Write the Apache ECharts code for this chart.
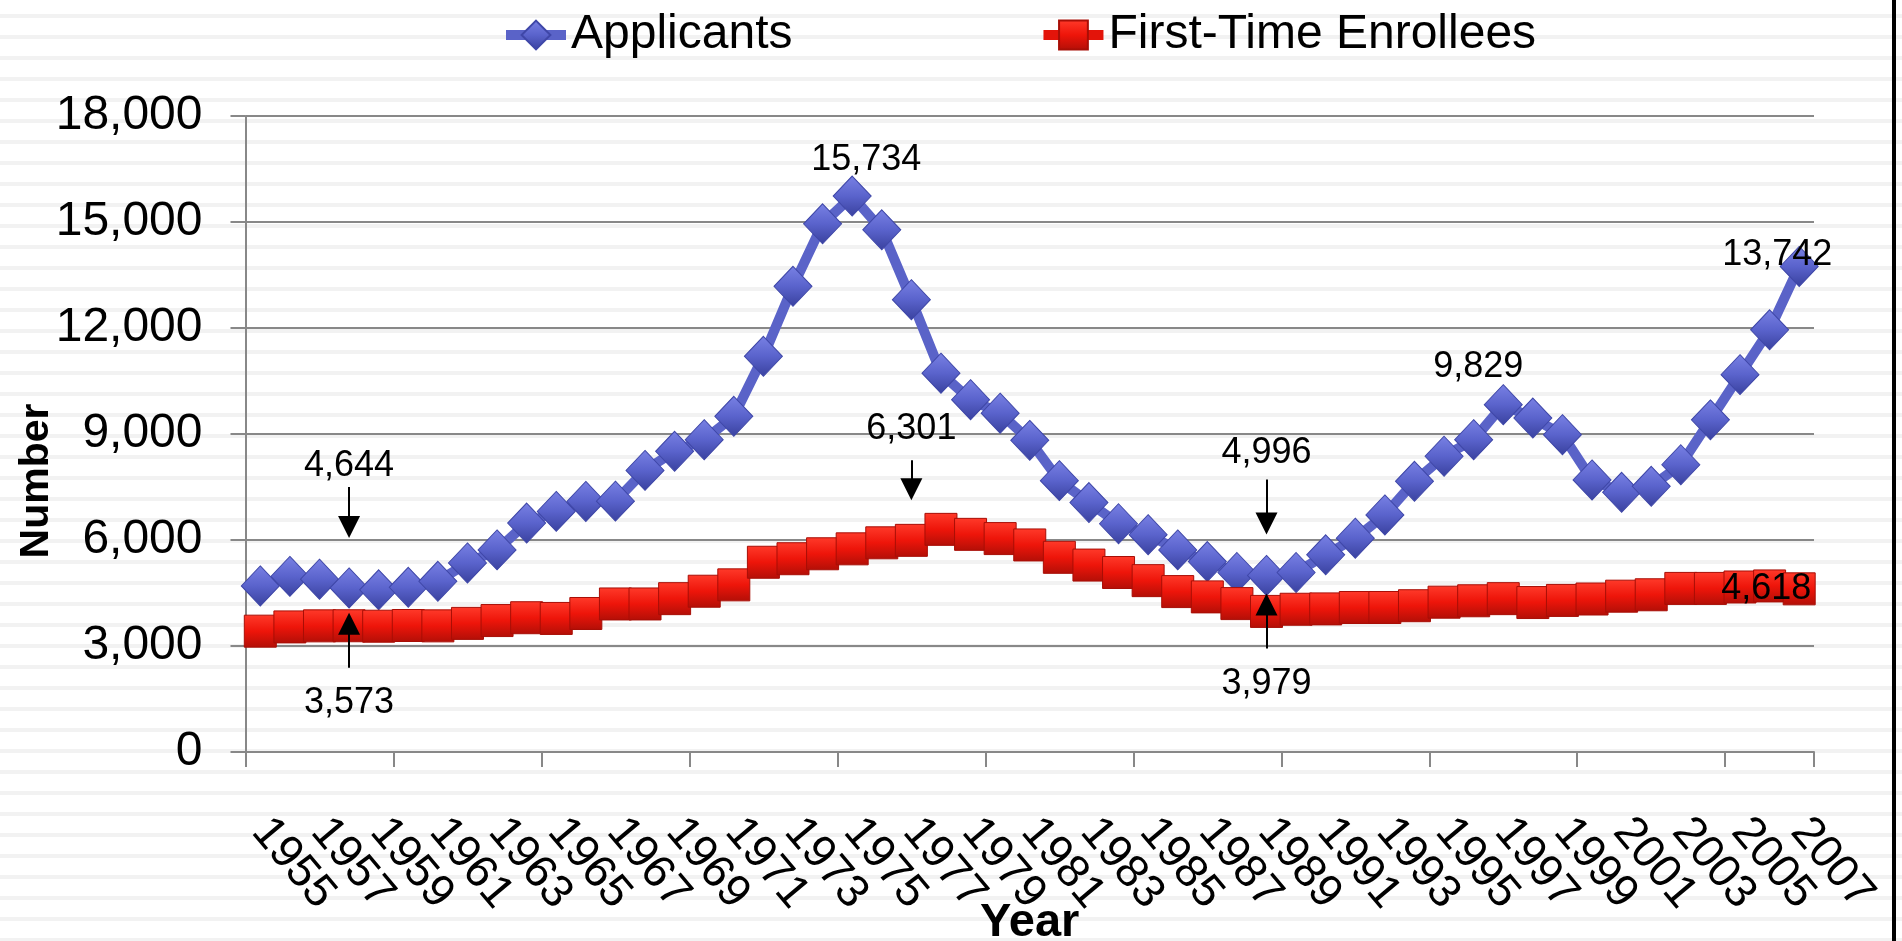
<!DOCTYPE html>
<html>
<head>
<meta charset="utf-8">
<script src="https://cdn.jsdelivr.net/npm/echarts/dist/echarts.min.js"></script>
<style>
  html, body { margin: 0; padding: 0; }
  body {
    width: 1902px; height: 941px; overflow: hidden; position: relative;
    background: repeating-linear-gradient(to bottom, #ffffff 0px, #ffffff 14px, #f2f2f2 14px, #f2f2f2 18px, #ffffff 18px, #ffffff 21px);
  }
  #chart { position: absolute; left: 0; top: 0; width: 1902px; height: 941px; }
  #edge { position: absolute; left: 1892px; top: 0; width: 4px; height: 941px; background: #000; }
</style>
</head>
<body>
<div id="chart"></div>
<div id="edge"></div>
<script>
// ---- data ----
const years = [];
for (let y = 1955; y <= 2007; y++) years.push(String(y));

const applicants = [
  4700, 4970, 4890, 4644, 4590, 4660, 4830, 5350, 5720, 6480,
  6810, 7090, 7100, 7970, 8510, 8840, 9500, 11200, 13180, 14950,
  15734, 14780, 12800, 10720, 9970, 9590, 8820, 7680, 7060, 6460,
  6150, 5720, 5390, 5080, 4996, 5080, 5580, 6050, 6710, 7660,
  8370, 8840, 9829, 9450, 8980, 7700, 7350, 7520, 8130, 9400,
  10680, 11950, 13742
];

const enrollees = [
  3420, 3540, 3570, 3573, 3560, 3580, 3570, 3640, 3720, 3800,
  3780, 3920, 4190, 4190, 4340, 4550, 4730, 5370, 5470, 5610,
  5750, 5920, 5990, 6301, 6160, 6040, 5860, 5510, 5290, 5080,
  4850, 4540, 4390, 4200, 3979, 4040, 4050, 4090, 4090, 4140,
  4240, 4280, 4340, 4230, 4290, 4330, 4410, 4450, 4630, 4630,
  4670, 4700, 4618
];

const yTicks = [0, 3000, 6000, 9000, 12000, 15000, 18000];
const seriesNames = ['Applicants', 'First-Time Enrollees'];

// ---- helpers ----
const FONT = '"Liberation Sans", Arial, sans-serif';
const PX = 18000 / 636; // value units per pixel (for annotation offsets)
function valOf(arr, year) { return arr[years.indexOf(year)]; }
function fmt(v) { return v.toLocaleString('en-US'); }

// text label placed near a data point (pixel offset)
function textMark(year, value, offset) {
  return {
    coord: [year, value], symbol: 'circle', symbolSize: 1,
    itemStyle: { color: 'rgba(0,0,0,0)' },
    label: { show: true, position: 'inside', formatter: fmt(value), offset: offset,
             color: '#000', fontSize: 36, fontFamily: FONT }
  };
}
// callout text: upPx = pixels above the point (negative = below)
function calloutText(year, value, upPx) {
  return {
    coord: [year, value + upPx * PX], symbol: 'circle', symbolSize: 1,
    itemStyle: { color: 'rgba(0,0,0,0)' },
    label: { show: true, position: 'inside', formatter: fmt(value),
             color: '#000', fontSize: 36, fontFamily: FONT }
  };
}
// callout arrow: tail and tip heights in pixels above the point
function calloutArrow(year, value, tailUp, tipUp) {
  const centerUp = tipUp + 11 * Math.sign(tailUp - tipUp);
  return [
    { coord: [year, value + tailUp * PX], symbol: 'none' },
    { coord: [year, value + centerUp * PX], symbol: 'triangle', symbolSize: 22 }
  ];
}

const a1958 = valOf(applicants, '1958');
const a1989 = valOf(applicants, '1989');
const e1958 = valOf(enrollees, '1958');
const e1978 = valOf(enrollees, '1978');
const e1989 = valOf(enrollees, '1989');

const chart = echarts.init(document.getElementById('chart'), null, { renderer: 'canvas' });

const blueFill = new echarts.graphic.LinearGradient(0, 0, 0, 1, [
  { offset: 0, color: '#7981E4' }, { offset: 0.5, color: '#5A63CC' }, { offset: 1, color: '#39419E' }
]);
const redFill = new echarts.graphic.LinearGradient(0, 0, 0, 1, [
  { offset: 0, color: '#FF3A2A' }, { offset: 0.5, color: '#EE150A' }, { offset: 1, color: '#B20F07' }
]);

const markLineBase = {
  silent: true, animation: false,
  label: { show: false },
  lineStyle: { color: '#000', width: 2, type: 'solid' },
  emphasis: { disabled: true }
};

chart.setOption({
  animation: false,
  textStyle: { fontFamily: FONT, color: '#000' },
  legend: {
    data: seriesNames,
    left: 496, top: 6,
    itemWidth: 60, itemHeight: 36, itemGap: 246,
    lineStyle: { width: 10 },
    textStyle: { fontSize: 48, color: '#000', fontFamily: FONT }
  },
  grid: { left: 245.5, right: 88, top: 116, bottom: 189, containLabel: false, outerBoundsMode: 'none' },
  xAxis: {
    type: 'category', data: years, boundaryGap: true,
    name: 'Year', nameLocation: 'middle', nameGap: 148, nameMoveOverlap: false,
    nameTextStyle: { fontSize: 47, fontWeight: 'bold', color: '#000', fontFamily: FONT },
    axisLine: { lineStyle: { color: '#888', width: 2 } },
    axisTick: { show: true, interval: function (i) { return i % 5 === 0; }, length: 15,
                lineStyle: { color: '#888', width: 2 } },
    axisLabel: { interval: 0, rotate: -50, margin: 72, fontSize: 46, color: '#000', fontFamily: FONT,
                 formatter: function (v, i) { return i % 2 === 0 ? v : ''; } },
    splitLine: { show: false }
  },
  yAxis: {
    type: 'value', min: yTicks[0], max: yTicks[yTicks.length - 1], interval: yTicks[1] - yTicks[0],
    name: 'Number', nameLocation: 'middle', nameGap: 188, nameMoveOverlap: false,
    nameTextStyle: { fontSize: 41, fontWeight: 'bold', color: '#000', fontFamily: FONT, padding: [0, 94, 0, 0] },
    axisLine: { show: true, lineStyle: { color: '#888', width: 2 } },
    axisTick: { show: true, length: 15, lineStyle: { color: '#888', width: 2 } },
    axisLabel: { margin: 43, fontSize: 48, color: '#000', fontFamily: FONT,
                 formatter: function (v) { return fmt(v); } },
    splitLine: { show: true, lineStyle: { color: '#888', width: 2 } }
  },
  series: [
    {
      name: seriesNames[0], type: 'line', data: applicants,
      symbol: 'diamond', symbolSize: [38, 40], showAllSymbol: true,
      lineStyle: { color: '#5A63C8', width: 10 },
      itemStyle: { color: blueFill, borderColor: '#3F47A8', borderWidth: 1 },
      emphasis: { disabled: true },
      markPoint: {
        silent: true, animation: false,
        data: [
          calloutText('1958', a1958, 122),
          calloutText('1989', a1989, 122),
          textMark('1975', valOf(applicants, '1975'), [14, -36]),
          textMark('1997', valOf(applicants, '1997'), [-25, -38]),
          textMark('2007', valOf(applicants, '2007'), [-22, -11])
        ]
      },
      markLine: Object.assign({}, markLineBase, {
        data: [
          calloutArrow('1958', a1958, 101, 50),
          calloutArrow('1989', a1989, 96, 41)
        ]
      })
    },
    {
      name: seriesNames[1], type: 'line', data: enrollees,
      symbol: 'rect', symbolSize: [32, 32], showAllSymbol: true,
      lineStyle: { color: '#E3140A', width: 8 },
      itemStyle: { color: redFill, borderColor: '#A80E06', borderWidth: 1 },
      emphasis: { disabled: true },
      markPoint: {
        silent: true, animation: false,
        data: [
          calloutText('1958', e1958, -77),
          calloutText('1977', e1978, 100),
          calloutText('1989', e1989, -73),
          textMark('2007', valOf(enrollees, '2007'), [-33, 0])
        ]
      },
      markLine: Object.assign({}, markLineBase, {
        data: [
          calloutArrow('1958', e1958, -42, 13),
          calloutArrow('1977', e1978, 69, 29),
          calloutArrow('1989', e1989, -37, 18)
        ]
      })
    }
  ]
});
</script>
</body>
</html>
